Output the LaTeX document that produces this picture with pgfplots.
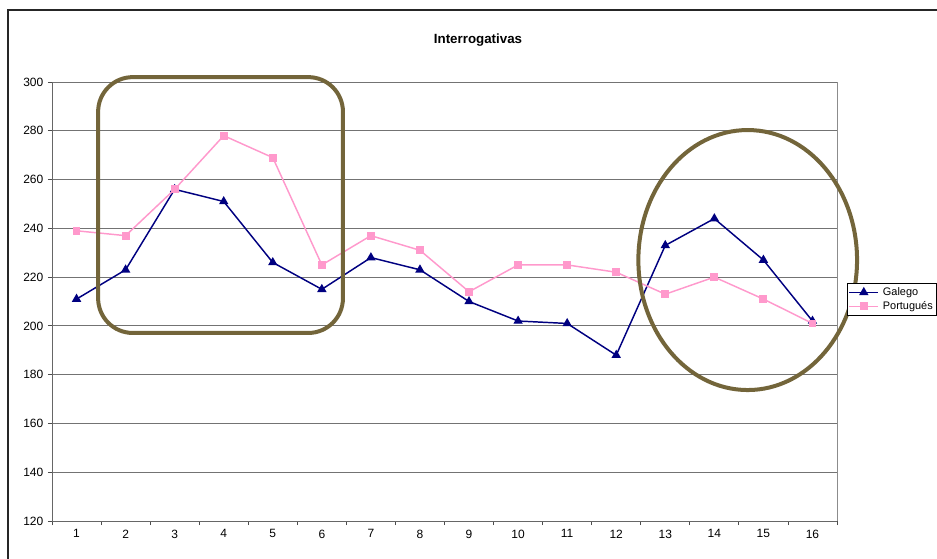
\documentclass[border=0pt]{standalone}
\usepackage{pgfplots}
\pgfplotsset{compat=1.18}
\usepackage{fontspec}
\setmainfont{Liberation Sans}
\definecolor{galego}{RGB}{0,0,128}
\definecolor{port}{RGB}{255,153,204}
\definecolor{annot}{RGB}{115,101,58}
\begin{document}
\begin{tikzpicture}
\useasboundingbox (0,0) rectangle (702.75pt,418.5pt);
\draw[black!85, line width=0.9pt] (6pt,-5pt) -- (6pt,411pt) -- (710pt,411pt);
\node[font=\fontsize{10}{12}\selectfont\bfseries] at (358.5pt,388.5pt) {Interrogativas};
\begin{axis}[
  at={(39pt,27.75pt)}, anchor=south west,
  scale only axis, width=588.75pt, height=329.25pt,
  xmin=0.5, xmax=16.5, ymin=120, ymax=300,
  xtick={1,...,16},
  minor xtick={0.5,1.5,...,16.5},
  ytick={120,140,...,300},
  tick align=outside,
  major x tick style={draw=none},
  minor tick length=3pt,
  major tick length=3pt,
  tick style={black!70, line width=0.6pt},
  ymajorgrids,
  major grid style={black!55, line width=0.6pt},
  axis line style={black!60, line width=0.6pt},
  axis x line*=bottom, axis y line*=left,
  clip=false,
  tick label style={font=\fontsize{9}{10}\selectfont},
  /pgf/number format/assume math mode=true,
  legend style={at={(1.0127,0.542)}, anchor=north west, draw=black, line width=0.5pt,
    font=\fontsize{8.2}{9.5}\selectfont, inner sep=1pt, row sep=-1pt,
    cells={anchor=west}, /tikz/every odd column/.append style={column sep=1pt}},
  legend cell align=left,
  legend image code/.code={
    \draw[mark repeat=2,mark phase=2] plot coordinates {(0cm,0cm) (0.38cm,0cm) (0.76cm,0cm)};
  },
]
\draw[black!45, line width=0.6pt] (axis cs:16.5,120) -- (axis cs:16.5,300);
\addplot[galego, line width=1.1pt, mark=triangle*, mark size=3pt, mark options={solid}] coordinates {
(1,211) (2,223) (3,256) (4,251) (5,226) (6,215) (7,228) (8,223)
(9,210) (10,202) (11,201) (12,188) (13,233) (14,244) (15,227) (16,202)};
\addlegendentry{Galego}
\addplot[port, line width=1.1pt, mark=square*, mark size=2.4pt] coordinates {
(1,239) (2,237) (3,256) (4,278) (5,269) (6,225) (7,237) (8,231)
(9,214) (10,225) (11,225) (12,222) (13,213) (14,220) (15,211) (16,201)};
\addlegendentry{Portugués}
\draw[annot, line width=3pt, rounded corners=26pt] (axis cs:1.44,197.1) rectangle (axis cs:6.43,302);
\draw[annot, line width=3pt] (axis cs:14.68,227) ellipse [x radius=82pt, y radius=97.5pt];
\end{axis}
\end{tikzpicture}
\end{document}
